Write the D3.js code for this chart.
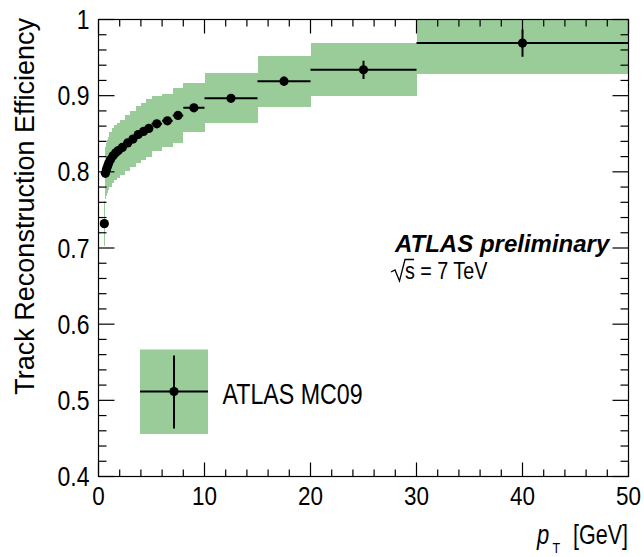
<!DOCTYPE html>
<html><head><meta charset="utf-8">
<script src="https://cdn.jsdelivr.net/npm/d3@7/dist/d3.min.js"></script>
<style>body{margin:0;background:#fff}svg{display:block}</style>
</head><body>
<svg id="chart" width="644" height="557"></svg>
<script>
// ---- data ----
const binLo  = [0.5,0.6,0.7,0.8,0.9,1.0,1.25,1.5,1.75,2.0,2.5,3.0,3.5,4.0,4.5,5,6,7,8,10,15,20,30];
const binHi  = [0.6,0.7,0.8,0.9,1.0,1.25,1.5,1.75,2.0,2.5,3.0,3.5,4.0,4.5,5.0,6,7,8,10,15,20,30,50];
const eff    = [0.732,0.798,0.803,0.807,0.811,0.816,0.821,0.825,0.828,0.832,0.838,0.843,0.849,0.853,0.857,0.863,0.867,0.874,0.884,0.8965,0.919,0.934,0.969];
const statErr= [0.004,0.002,0.002,0.002,0.002,0.002,0.002,0.002,0.002,0.002,0.002,0.002,0.002,0.002,0.002,0.002,0.003,0.003,0.003,0.004,0.006,0.012,0.018];
const systErr= [0.030,0.034,0.035,0.035,0.035,0.036,0.036,0.036,0.036,0.036,0.037,0.037,0.038,0.038,0.038,0.036,0.035,0.036,0.032,0.033,0.0335,0.0345,0.040];
const xTicks = [0,10,20,30,40,50];
const yTicks = [0.4,0.5,0.6,0.7,0.8,0.9,1.0];
const legendLabel = "ATLAS MC09";

const svg = d3.select("#chart");
const L=98.5, R=628.5, T=19.5, B=476.5;
const x = d3.scaleLinear().domain([0,50]).range([L,R]);
const y = d3.scaleLinear().domain([0.4,1.0]).range([B,T]);
const green = "#99cc99";
const font = "'Liberation Sans',Arial,Helvetica,sans-serif";

const pts = binLo.map((lo,i)=>({lo,hi:binHi[i],c:(lo+binHi[i])/2,v:eff[i],s:statErr[i],e:systErr[i]}));

svg.append("clipPath").attr("id","clip").append("rect")
  .attr("x",L).attr("y",T).attr("width",R-L).attr("height",B-T);
const g = svg.append("g").attr("clip-path","url(#clip)");

// bands
g.selectAll("rect.band").data(pts).enter().append("rect")
  .attr("x",d=>x(d.lo)).attr("width",d=>x(d.hi)-x(d.lo))
  .attr("y",d=>y(d.v+d.e)).attr("height",d=>y(d.v-d.e)-y(d.v+d.e))
  .attr("fill",green).attr("shape-rendering","crispEdges");

// error bars
g.selectAll("line.h").data(pts).enter().append("line")
  .attr("x1",d=>x(d.lo)).attr("x2",d=>x(d.hi)).attr("y1",d=>y(d.v)).attr("y2",d=>y(d.v))
  .attr("stroke","#000").attr("stroke-width",2);
g.selectAll("line.v").data(pts).enter().append("line")
  .attr("x1",d=>x(d.c)).attr("x2",d=>x(d.c)).attr("y1",d=>y(d.v-d.s)).attr("y2",d=>y(d.v+d.s))
  .attr("stroke","#000").attr("stroke-width",2);
g.selectAll("circle").data(pts).enter().append("circle")
  .attr("cx",d=>x(d.c)).attr("cy",d=>y(d.v)).attr("r",4.6).attr("fill","#000");

// axes (ROOT style ticks inside on all sides)
const ax = svg.append("g").attr("stroke","#000").attr("stroke-width",1.2).attr("fill","none");
ax.append("rect").attr("x",L).attr("y",T).attr("width",R-L).attr("height",B-T);
d3.range(0,50.001,2).forEach(v=>{
  const major = Math.abs(v%10)<1e-6;
  const len = major?14:7;
  ax.append("line").attr("x1",x(v)).attr("x2",x(v)).attr("y1",B).attr("y2",B-len);
  ax.append("line").attr("x1",x(v)).attr("x2",x(v)).attr("y1",T).attr("y2",T+len);
});
d3.range(0.4,1.0001,0.02).forEach(v=>{
  const major = Math.abs(Math.round(v*100)%10)<1e-6;
  const len = major?16:8;
  ax.append("line").attr("x1",L).attr("x2",L+len).attr("y1",y(v)).attr("y2",y(v));
  ax.append("line").attr("x1",R).attr("x2",R-len).attr("y1",y(v)).attr("y2",y(v));
});

// helper: text stretched vertically (as in the reference)
function stext(sel, px, py, size, sy, anchor, str){
  return sel.append("text").attr("transform",`translate(${px},${py}) scale(1,${sy})`)
    .attr("text-anchor",anchor).attr("font-family",font).attr("font-size",size).text(str);
}

// tick labels
const xl = svg.append("g");
xTicks.forEach(v=>stext(xl, x(v), 505, 22.5, 1.18, "middle", d3.format("d")(v)));
const yl = svg.append("g");
yTicks.forEach(v=>stext(yl, 89.5, y(v)+9.5, 23, 1.18, "end", v===1?"1":d3.format(".1f")(v)));

// axis titles
svg.append("text").attr("transform","translate(34,18) rotate(-90)").attr("text-anchor","end")
  .attr("font-family",font).attr("font-size",27).text("Track Reconstruction Efficiency");
const xtg = svg.append("g");
stext(xtg, 537, 544, 22, 1.25, "start", "p").attr("font-style","italic");
stext(xtg, 552.5, 552.5, 12.5, 1.2, "start", "T");
stext(xtg, 628, 544, 21.5, 1.25, "end", "[GeV]");

// ATLAS label
svg.append("text").attr("x",395).attr("y",252).attr("font-family",font)
  .attr("font-size",24).attr("font-weight","bold").attr("font-style","italic").text("ATLAS preliminary");
svg.append("path").attr("d","M391,272 L395,270 L399.5,281 L405,259.5 L414,259.5")
  .attr("stroke","#000").attr("stroke-width",1.3).attr("fill","none");
stext(svg, 405, 278.5, 19.7, 1.25, "start", "s = 7 TeV");

// legend
const lg = svg.append("g");
lg.append("rect").attr("x",140).attr("y",349.5).attr("width",68).attr("height",84.5).attr("fill",green);
lg.append("line").attr("x1",140).attr("x2",208).attr("y1",391.5).attr("y2",391.5).attr("stroke","#000").attr("stroke-width",2);
lg.append("line").attr("x1",174).attr("x2",174).attr("y1",355.5).attr("y2",428.5).attr("stroke","#000").attr("stroke-width",2);
lg.append("circle").attr("cx",174).attr("cy",391.5).attr("r",4.6).attr("fill","#000");
stext(lg, 222.5, 403.5, 23.2, 1.3, "start", legendLabel);
</script>
</body></html>
